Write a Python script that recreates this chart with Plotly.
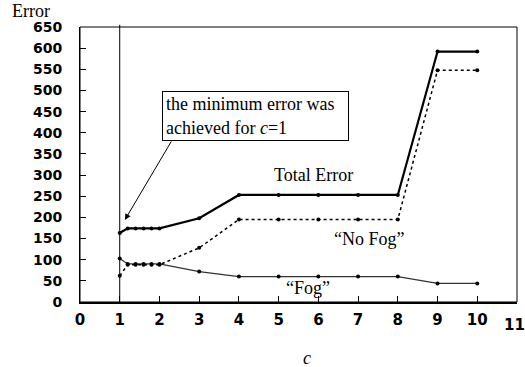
import plotly.graph_objects as go

c_values = [1, 1.2, 1.4, 1.6, 1.8, 2, 3, 4, 5, 6, 7, 8, 9, 10]
total_error = [163, 174, 174, 174, 174, 174, 198, 253, 253, 253, 253, 253, 592, 592]
no_fog = [62, 88, 88, 88, 88, 88, 128, 195, 195, 195, 195, 195, 548, 548]
fog = [103, 90, 90, 90, 90, 90, 72, 60, 60, 60, 60, 60, 44, 44]

x_ticks = list(range(0, 12))
x_ticklabels = [str(v) for v in x_ticks]
y_ticks = list(range(0, 651, 50))

serif = "Liberation Serif"
tick_font_x = dict(family="DejaVu Sans", size=15, color="black", weight="bold")

fig = go.Figure()
fig.add_trace(go.Scatter(x=c_values, y=fog, mode="lines+markers", name="Fog",
                         line=dict(color="#333333", width=1.3),
                         marker=dict(color="black", size=4)))
fig.add_trace(go.Scatter(x=c_values, y=no_fog, mode="lines+markers", name="No Fog",
                         line=dict(color="black", width=1.5, dash="dot"),
                         marker=dict(color="black", size=4)))
fig.add_trace(go.Scatter(x=c_values, y=total_error, mode="lines+markers", name="Total Error",
                         line=dict(color="black", width=2.2),
                         marker=dict(color="black", size=4)))

# last x tick label is nudged left to fit inside the page (as in the reference)
fig.update_layout(
    width=525, height=367,
    margin=dict(l=80, r=8, t=27, b=65, autoexpand=False),
    paper_bgcolor="white", plot_bgcolor="white",
    showlegend=False,
    xaxis=dict(range=[0, 11], tickvals=x_ticks, ticktext=x_ticklabels[:-1] + [""],
               showgrid=False, zeroline=False, showline=True, linecolor="black", linewidth=2,
               ticks="inside", ticklen=6, tickcolor="black", tickwidth=1, automargin=False,
               tickfont=tick_font_x, ticklabelstandoff=3, ticklabeloverflow="allow"),
    yaxis=dict(range=[0, 650], tickvals=y_ticks, ticktext=[str(v) for v in y_ticks],
               showgrid=False, zeroline=False, showline=True, linecolor="black", linewidth=1,
               ticks="inside", ticklen=6, tickcolor="black", tickwidth=1, automargin=False,
               tickfont=dict(family="DejaVu Sans", size=14, color="black", weight="bold"),
               ticklabelstandoff=14, ticklabeloverflow="allow"),
    shapes=[
        dict(type="rect", xref="paper", yref="paper", x0=0, x1=1, y0=0, y1=1,
             line=dict(color="black", width=1)),
        dict(type="line", xref="x", yref="paper", x0=1, x1=1, y0=0, y1=1.008,
             line=dict(color="black", width=1)),
    ],
    annotations=[
        dict(text=x_ticklabels[-1], xref="paper", yref="paper", x=(514 - 80) / 437,
             y=(302 - 324.5) / 275, xanchor="center", yanchor="middle", showarrow=False,
             font=tick_font_x),
        dict(text="Error", xref="paper", yref="paper", x=-0.16, y=1.058,
             xanchor="left", yanchor="middle", showarrow=False,
             font=dict(family=serif, size=18, color="black")),
        dict(text="<i>c</i>", xref="paper", yref="paper", x=(307 - 80) / 437, y=(302 - 358) / 275,
             xanchor="center", yanchor="middle", showarrow=False,
             font=dict(family=serif, size=18, color="black")),
        dict(text="Total Error", xref="x", yref="y", x=5.87, y=300, showarrow=False,
             font=dict(family=serif, size=18, color="black")),
        dict(text="\u201cNo Fog\u201d", xref="x", yref="y", x=7.28, y=149, showarrow=False,
             font=dict(family=serif, size=18, color="black")),
        dict(text="\u201cFog\u201d", xref="x", yref="y", x=5.74, y=33, showarrow=False,
             font=dict(family=serif, size=18, color="black")),
        dict(text="the minimum error was<br>achieved for <i>c</i>=1", xref="paper", yref="paper",
             x=(162 - 80) / 437, y=(302 - 91) / 275, xanchor="left", yanchor="top",
             align="left", showarrow=False, bordercolor="black", borderwidth=1, borderpad=3,
             bgcolor="white", width=179, height=42,
             font=dict(family=serif, size=18, color="black")),
        dict(text="", xref="x", yref="y", x=1.13, y=194, axref="x", ayref="y",
             ax=2.32, ay=383, showarrow=True, arrowhead=2, arrowsize=1.2, arrowwidth=1,
             arrowcolor="black"),
    ],
)

fig.write_html("out.html", config={"displayModeBar": False},
               post_script="document.body.style.margin='0';")
